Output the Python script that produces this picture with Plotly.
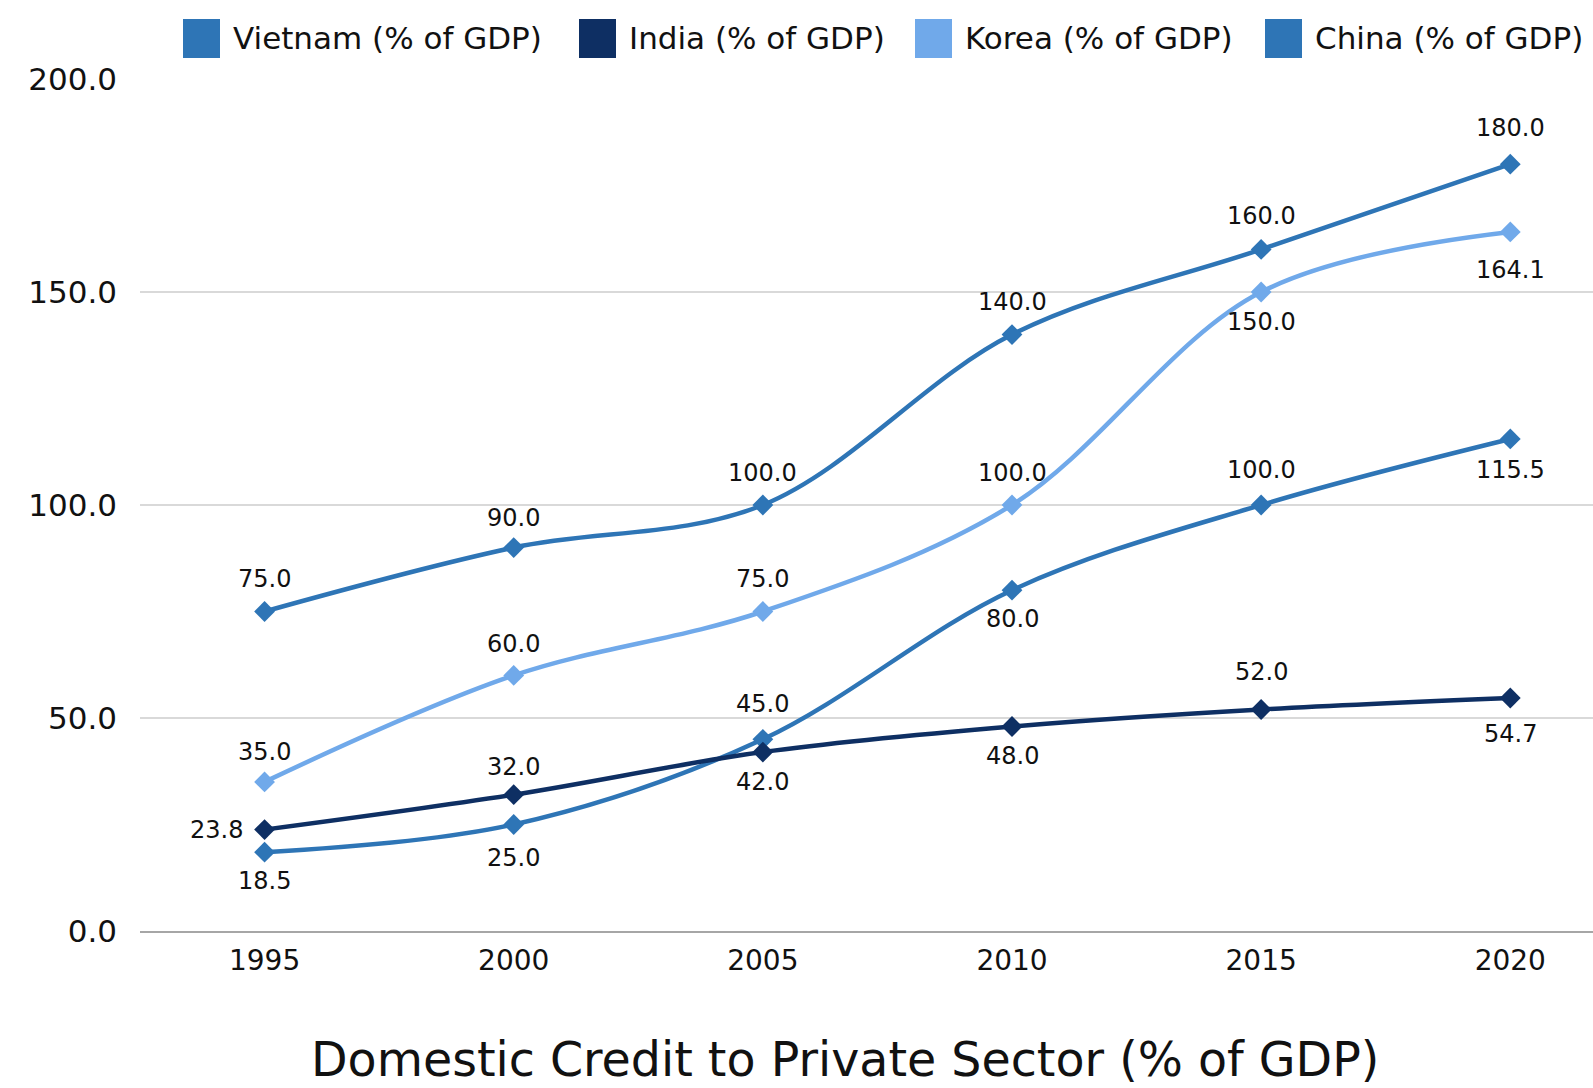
import plotly.graph_objects as go

# Data: domestic credit to private sector (% of GDP)
years = [1995, 2000, 2005, 2010, 2015, 2020]
vietnam = [18.5, 25.0, 45.0, 80.0, 100.0, 115.5]
india = [23.8, 32.0, 42.0, 48.0, 52.0, 54.7]
korea = [35.0, 60.0, 75.0, 100.0, 150.0, 164.1]
china = [75.0, 90.0, 100.0, 140.0, 160.0, 180.0]

series_names = ["Vietnam (% of GDP)", "India (% of GDP)", "Korea (% of GDP)", "China (% of GDP)"]
colors = ["#2E75B6", "#0E2F63", "#70A9EA", "#2E75B6"]

# Label offsets in pixels (dx, dy) relative to each marker; positive dy = up
vietnam_off = [(0, -29), (0, -33), (0, 35), (0, -29), (0, 35), (0, -31)]
india_off = [(-48, 0), (0, 28), (0, -30), (0, -29), (0, 37), (0, -36)]
korea_off = [(0, 30), (0, 31), (0, 33), (0, 32), (0, -30), (0, -38)]
china_off = [(0, 33), (0, 30), (0, 32), (0, 33), (0, 33), (0, 36)]

FONT = "DejaVu Sans"
TEXT_COLOR = "#111111"

W, H = 1593, 1088
L, R, T, B = 140, 0, 79, 157

fig = go.Figure()
annotations = []
for name, vals, col, offs in zip(series_names, [vietnam, india, korea, china], colors,
                                 [vietnam_off, india_off, korea_off, china_off]):
    fig.add_trace(go.Scatter(
        x=years, y=vals, name=name,
        mode="lines+markers",
        line=dict(color=col, width=4.5, shape="spline", smoothing=1.0),
        marker=dict(symbol="diamond", size=16, color=col),
        showlegend=False,
        cliponaxis=False,
    ))
    for xv, yv, (dx, dy) in zip(years, vals, offs):
        annotations.append(dict(
            x=xv, y=yv, xref="x", yref="y", text=f"{yv:.1f}", showarrow=False,
            xshift=dx, yshift=dy, xanchor="center", yanchor="middle",
            font=dict(family=FONT, size=24, color=TEXT_COLOR),
        ))

# Custom legend row of square swatches above the plot
plot_w = W - L - R
plot_h = H - T - B


def px_x(x):
    return (x - L) / plot_w


def px_y(y):
    return (H - B - y) / plot_h


legend_items = [(183, series_names[0], colors[0]), (579, series_names[1], colors[1]),
                (915, series_names[2], colors[2]), (1265, series_names[3], colors[3])]
shapes = []
for x0, name, col in legend_items:
    shapes.append(dict(type="rect", xref="paper", yref="paper",
                       x0=px_x(x0), x1=px_x(x0 + 37), y0=px_y(58), y1=px_y(19),
                       fillcolor=col, line=dict(width=0)))
    annotations.append(dict(xref="paper", yref="paper", x=px_x(x0 + 48), y=px_y(38),
                            xanchor="left", yanchor="middle", showarrow=False,
                            text=name, font=dict(family=FONT, size=31, color=TEXT_COLOR)))

# Chart title below the axis
annotations.append(dict(xref="paper", yref="paper", x=px_x(845), y=px_y(1059),
                        xanchor="center", yanchor="middle", showarrow=False,
                        text="Domestic Credit to Private Sector (% of GDP)",
                        font=dict(family=FONT, size=47.5, color=TEXT_COLOR)))

fig.update_layout(
    width=W, height=H,
    margin=dict(l=L, r=R, t=T, b=B, pad=0),
    paper_bgcolor="white", plot_bgcolor="white",
    shapes=shapes, annotations=annotations,
    font=dict(family=FONT, color=TEXT_COLOR),
)
fig.update_xaxes(
    range=[1992.5, 2021.66], tickvals=years, ticktext=[str(y) for y in years],
    showgrid=False, zeroline=False, showline=True, linecolor="#a6a6a6", linewidth=2,
    ticks="", tickfont=dict(family=FONT, size=28, color=TEXT_COLOR), ticklabelstandoff=3,
)
fig.update_yaxes(
    range=[0, 200], tickvals=[0, 50, 100, 150, 200], tickformat=".1f",
    showgrid=True, gridcolor="#d9d9d9", gridwidth=2, zeroline=False, showline=False,
    ticks="", tickfont=dict(family=FONT, size=31, color=TEXT_COLOR), ticklabelstandoff=22,
)

fig.write_html("out.html")
